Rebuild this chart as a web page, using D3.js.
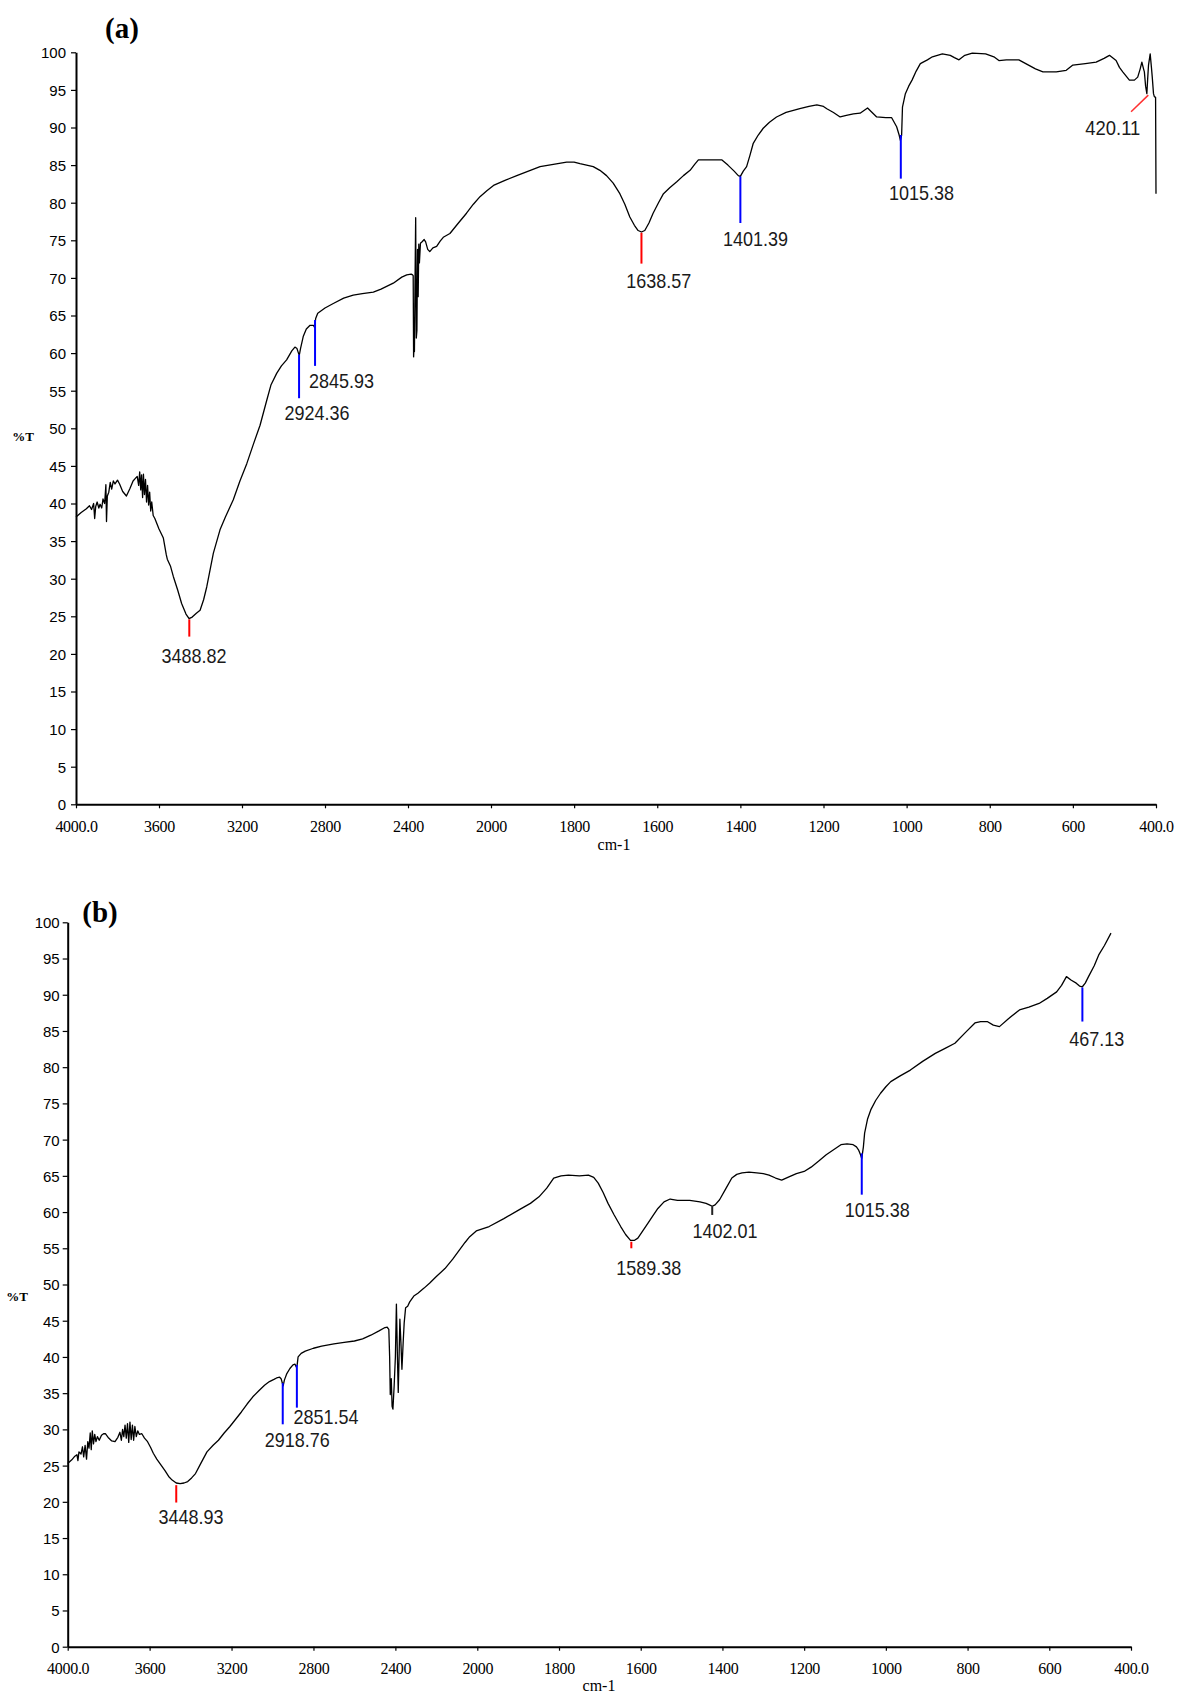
<!DOCTYPE html>
<html><head><meta charset="utf-8">
<script src="https://cdn.jsdelivr.net/npm/d3@7"></script>
<style>body{margin:0;background:#fff;} svg{display:block;}</style>
</head><body>
<svg id="chart" width="1177" height="1697"></svg>
<script>
// ---------------- DATA ----------------
const xTickValues = [4000,3600,3200,2800,2400,2000,1800,1600,1400,1200,1000,800,600,400];
const xTickLabels = ["4000.0","3600","3200","2800","2400","2000","1800","1600","1400","1200","1000","800","600","400.0"];
const yTickValues = [0,5,10,15,20,25,30,35,40,45,50,55,60,65,70,75,80,85,90,95,100];
const yTickLabels = ["0","5","10","15","20","25","30","35","40","45","50","55","60","65","70","75","80","85","90","95","100"];
const panelTitles = ["(a)", "(b)"];
const xAxisTitle = "cm-1";
const yAxisTitle = "%T";

// spectrum (a): [wavenumber cm-1, %T]
const spectrumA = [
[4000,38.2],[3975,38.8],[3950,39.3],[3935,39.7],[3925,39.2],[3915,40.0],[3910,38.0],[3905,39.6],[3898,40.2],
[3890,39.4],[3884,39.9],[3876,39.4],[3870,40.6],[3862,40.0],[3856,42.5],[3853,37.6],[3849,41.0],[3842,41.5],
[3835,42.8],[3828,41.9],[3820,43.0],[3812,42.6],[3800,43.1],[3790,42.6],[3775,41.6],[3757,41.0],[3740,42.0],
[3725,43.0],[3715,43.3],[3705,43.6],[3698,42.4],[3693,44.2],[3688,41.8],[3684,43.8],[3679,40.8],[3675,43.9],
[3670,41.2],[3665,43.2],[3660,40.2],[3655,42.4],[3650,39.8],[3645,41.5],[3640,39.0],[3635,40.2],[3628,38.4],
[3620,38.0],[3600,36.6],[3579,35.4],[3565,33.2],[3560,32.6],[3545,31.7],[3531,30.3],[3510,28.5],[3491,26.7],
[3470,25.3],[3455,24.7],[3440,24.9],[3420,25.4],[3402,25.8],[3385,27.2],[3370,28.9],[3338,33.4],[3306,36.5],
[3280,38.2],[3242,40.5],[3210,43.0],[3177,45.3],[3145,47.9],[3113,50.4],[3081,53.7],[3060,55.8],[3033,57.3],
[3010,58.3],[2985,59.1],[2960,60.3],[2945,60.8],[2935,60.6],[2928,60.0],[2924,59.7],[2918,60.6],[2905,62.2],
[2890,63.2],[2872,63.7],[2856,63.7],[2850,63.4],[2845,64.6],[2835,65.3],[2800,66.0],[2760,66.6],[2710,67.3],
[2664,67.7],[2620,67.9],[2567,68.1],[2530,68.5],[2471,69.3],[2430,70.1],[2406,70.4],[2385,70.5],[2378,70.4],
[2375,70.3],[2373,59.5],[2371,60.8],[2369,60.2],[2366,70.0],[2363,78.0],[2360,62.0],[2357,63.0],[2354,73.8],
[2351,67.5],[2348,74.5],[2345,72.0],[2340,74.6],[2332,74.8],[2322,75.1],[2315,74.8],[2305,73.8],[2295,73.5],
[2280,74.0],[2262,74.2],[2245,74.9],[2230,75.4],[2198,75.9],[2160,77.2],[2118,78.6],[2085,79.8],[2053,80.8],
[2020,81.6],[1994,82.3],[1965,83.0],[1938,83.6],[1910,84.2],[1882,84.8],[1850,85.1],[1818,85.4],[1800,85.4],
[1786,85.2],[1770,85.0],[1754,84.8],[1738,84.3],[1722,83.6],[1706,82.6],[1690,81.2],[1678,79.8],[1666,78.1],
[1655,77.0],[1646,76.3],[1638,76.1],[1630,76.3],[1620,77.3],[1610,78.6],[1597,80.0],[1585,81.2],[1570,82.0],
[1553,82.8],[1537,83.6],[1521,84.3],[1510,85.1],[1501,85.7],[1470,85.7],[1445,85.7],[1430,85.0],[1415,84.2],
[1405,83.6],[1400,83.5],[1393,84.2],[1385,84.8],[1377,86.3],[1369,87.9],[1357,89.0],[1345,89.9],[1330,90.7],
[1313,91.4],[1290,92.0],[1257,92.5],[1235,92.8],[1216,93.0],[1200,92.8],[1192,92.5],[1176,92.0],[1160,91.4],
[1145,91.6],[1128,91.8],[1112,91.9],[1094,92.6],[1083,92.0],[1072,91.4],[1050,91.3],[1036,91.3],[1024,90.1],
[1018,89.0],[1015,88.3],[1012,89.0],[1010,92.7],[1003,94.5],[995,95.5],[987,96.3],[977,97.5],[967,98.5],
[950,99.0],[938,99.4],[914,99.8],[895,99.6],[885,99.3],[874,99.0],[860,99.6],[842,99.9],[810,99.8],[790,99.4],
[778,98.9],[760,99.0],[730,99.0],[710,98.4],[690,97.8],[672,97.4],[640,97.4],[616,97.6],[600,98.3],[570,98.5],
[544,98.7],[525,99.2],[512,99.6],[496,98.9],[488,98.0],[480,97.4],[464,96.3],[452,96.3],[444,96.7],[438,97.8],
[434,98.7],[430,97.8],[428,97.4],[425,95.5],[422,94.5],[420,96.5],[418,98.3],[414,99.8],[411,98.0],[409,96.7],
[406,94.5],[404,94.1],[401,94.0],[400,81.2]
];

// spectrum (b): [wavenumber cm-1, %T]
const spectrumB = [
[4000,25.3],[3980,25.8],[3965,26.3],[3955,26.5],[3950,25.7],[3945,26.9],[3935,26.6],[3928,27.6],[3922,26.2],
[3915,27.8],[3908,25.9],[3902,28.3],[3896,27.4],[3890,29.5],[3885,27.2],[3880,29.8],[3874,28.0],[3868,29.3],
[3862,28.3],[3855,29.0],[3846,28.5],[3835,29.2],[3825,29.4],[3816,29.4],[3800,28.8],[3785,28.4],[3769,28.3],
[3755,28.9],[3745,29.6],[3738,28.5],[3732,30.0],[3726,29.0],[3720,30.6],[3714,28.8],[3708,30.8],[3702,28.2],
[3696,31.0],[3690,28.6],[3684,30.6],[3678,28.5],[3672,30.4],[3665,29.0],[3658,29.8],[3650,29.3],[3638,29.4],
[3625,28.8],[3610,28.3],[3595,27.5],[3582,26.7],[3565,25.9],[3545,25.1],[3525,24.3],[3507,23.5],[3490,23.0],
[3470,22.6],[3451,22.5],[3432,22.6],[3414,22.8],[3395,23.3],[3376,23.9],[3350,25.3],[3320,26.9],[3290,27.8],
[3264,28.5],[3236,29.5],[3208,30.4],[3180,31.4],[3152,32.4],[3124,33.5],[3096,34.5],[3068,35.3],[3039,36.1],
[3015,36.6],[2993,36.9],[2980,37.1],[2965,37.2],[2958,37.0],[2952,36.4],[2948,36.0],[2942,36.8],[2930,37.7],
[2915,38.4],[2900,38.9],[2890,39.0],[2884,38.6],[2880,38.8],[2875,40.0],[2860,40.5],[2840,40.8],[2800,41.2],
[2760,41.5],[2700,41.8],[2650,42.0],[2600,42.2],[2560,42.5],[2520,43.0],[2480,43.6],[2455,44.0],[2440,44.1],
[2432,43.8],[2428,40.0],[2425,34.8],[2420,37.0],[2416,33.2],[2412,32.8],[2406,36.0],[2400,40.0],[2395,47.3],
[2390,40.0],[2386,35.1],[2382,40.0],[2378,45.2],[2373,42.0],[2368,38.3],[2362,42.0],[2357,44.7],[2350,46.8],
[2340,47.0],[2330,47.6],[2310,48.4],[2290,48.8],[2260,49.5],[2232,50.2],[2200,51.1],[2158,52.2],[2120,53.5],
[2086,54.8],[2060,55.8],[2037,56.6],[2005,57.4],[1971,58.0],[1935,59.1],[1898,60.3],[1870,61.2],[1849,62.1],
[1830,63.3],[1813,64.7],[1795,65.0],[1777,65.1],[1750,65.0],[1728,65.1],[1715,64.8],[1704,64.0],[1692,62.7],
[1680,61.2],[1665,59.6],[1649,58.0],[1637,56.9],[1625,56.1],[1615,56.1],[1607,56.4],[1595,57.4],[1583,58.4],
[1570,59.5],[1558,60.5],[1543,61.4],[1528,61.8],[1510,61.6],[1480,61.6],[1455,61.4],[1440,61.2],[1432,61.0],
[1425,60.8],[1418,61.0],[1407,61.7],[1392,63.2],[1377,64.7],[1365,65.2],[1352,65.4],[1335,65.5],[1316,65.4],
[1300,65.3],[1286,65.1],[1270,64.7],[1255,64.4],[1240,64.8],[1219,65.3],[1200,65.6],[1183,66.2],[1165,67.0],
[1146,67.9],[1128,68.6],[1110,69.3],[1095,69.4],[1080,69.3],[1072,69.0],[1067,68.6],[1062,67.9],[1059,67.4],
[1055,69.0],[1052,70.9],[1045,72.8],[1037,74.1],[1025,75.4],[1013,76.4],[1000,77.3],[988,78.0],[965,78.8],
[940,79.6],[910,80.8],[879,81.9],[855,82.6],[831,83.3],[805,84.8],[782,86.1],[768,86.3],[752,86.3],[737,85.8],
[722,85.6],[700,86.7],[673,87.9],[650,88.3],[625,88.8],[605,89.5],[582,90.4],[570,91.3],[558,92.5],[546,92.0],
[534,91.6],[526,91.2],[519,91.1],[512,91.6],[504,92.5],[490,94.0],[479,95.5],[465,96.8],[449,98.5]
];

// peak picks: printed label, marker position (wn, %T top -> %T bottom), colour
const peaksA = [
  {label:"3488.82", wn:3454, wnEnd:3454, top:24.6, bottom:22.3, color:"#ff0000"},
  {label:"2924.36", wn:2925, wnEnd:2925, top:59.8, bottom:54.0, color:"#0000ff"},
  {label:"2845.93", wn:2848, wnEnd:2848, top:64.4, bottom:58.3, color:"#0000ff"},
  {label:"1638.57", wn:1638, wnEnd:1638, top:76.0, bottom:71.9, color:"#ff0000"},
  {label:"1401.39", wn:1400, wnEnd:1400, top:83.5, bottom:77.3, color:"#0000ff"},
  {label:"1015.38", wn:1014, wnEnd:1014, top:89.0, bottom:83.2, color:"#0000ff"},
  {label:"420.11",  wn:418.5, wnEnd:460, top:94.3, bottom:92.1, color:"#ff3030"}
];
const peaksB = [
  {label:"3448.93", wn:3470, wnEnd:3470, top:22.3, bottom:19.9, color:"#ff0000"},
  {label:"2918.76", wn:2950, wnEnd:2950, top:36.4, bottom:30.7, color:"#0000ff"},
  {label:"2851.54", wn:2881, wnEnd:2881, top:38.9, bottom:33.0, color:"#0000ff"},
  {label:"1589.38", wn:1623, wnEnd:1623, top:55.9, bottom:55.0, color:"#ff0000"},
  {label:"1402.01", wn:1425, wnEnd:1425, top:60.8, bottom:59.6, color:"#222222"},
  {label:"1015.38", wn:1059, wnEnd:1059, top:68.1, bottom:62.4, color:"#0000ff"},
  {label:"467.13",  wn:519,  wnEnd:519,  top:91.0, bottom:86.3, color:"#0000ff"}
];

// ---------------- LAYOUT ----------------
const labelOffsetsA = [[4.7,26],[18,21.7],[26.5,21.7],[17.2,24],[15.1,23.3],[20.7,21],[-18.2,23.3]];
const labelOffsetsB = [[14.8,21],[14.5,22.7],[29.1,16.7],[17.4,26.6],[12.7,22.7],[15.4,22.7],[14.4,24.3]];

const panels = [
  {title: panelTitles[0], data: spectrumA, peaks: peaksA, offs: labelOffsetsA,
   xRange:[76, 491, 1156], yRange:[804.3, 52.3], yLabelPad: 5,
   titlePos:[122, 38], yTitlePos:[23, 441], xTitlePos:[614, 850]},
  {title: panelTitles[1], data: spectrumB, peaks: peaksB, offs: labelOffsetsB,
   xRange:[67.7, 477.3, 1131], yRange:[1646.7, 922.3], yLabelPad: 3,
   titlePos:[100, 922], yTitlePos:[17, 1301], xTitlePos:[599, 1691]}
];

const svg = d3.select("#chart");
svg.append("rect").attr("width",1177).attr("height",1697).attr("fill","#fff");

panels.forEach(p => {
  const x = d3.scaleLinear().domain([4000, 2000, 400]).range(p.xRange);
  const y = d3.scaleLinear().domain([0, 100]).range(p.yRange);
  const g = svg.append("g");

  // y axis
  const ya = g.append("g").attr("transform", `translate(${p.xRange[0]},0)`)
    .call(d3.axisLeft(y).tickValues(yTickValues).tickFormat((d,i)=>yTickLabels[i])
      .tickSize(5).tickSizeOuter(0).tickPadding(p.yLabelPad));
  ya.select(".domain").attr("stroke","#000").attr("stroke-width",2);
  ya.selectAll(".tick line").attr("stroke","#000").attr("stroke-width",1.2);
  ya.selectAll(".tick text").attr("font-family","'Liberation Sans', Arial, sans-serif")
    .attr("font-size",15).attr("fill","#000").attr("dy","0.36em");

  // x axis
  const xa = g.append("g").attr("transform", `translate(0,${p.yRange[0]})`)
    .call(d3.axisBottom(x).tickValues(xTickValues).tickFormat((d,i)=>xTickLabels[i])
      .tickSize(4).tickSizeOuter(0).tickPadding(12));
  xa.select(".domain").attr("stroke","#000").attr("stroke-width",2);
  xa.selectAll(".tick line").attr("stroke","#000").attr("stroke-width",1.2);
  xa.selectAll(".tick text").attr("font-family","'Liberation Serif', 'Times New Roman', serif")
    .attr("font-size",16).attr("fill","#000").attr("letter-spacing","-0.3");

  // spectrum line
  const line = d3.line().x(d => x(d[0])).y(d => y(d[1]));
  g.append("path").datum(p.data).attr("d", line)
    .attr("fill","none").attr("stroke","#000").attr("stroke-width",1.3).attr("stroke-linejoin","round");

  // peak markers
  g.selectAll("line.peak").data(p.peaks).join("line").attr("class","peak")
    .attr("x1", d => x(d.wn)).attr("y1", d => y(d.top))
    .attr("x2", d => x(d.wnEnd)).attr("y2", d => y(d.bottom))
    .attr("stroke", d => d.color).attr("stroke-width", d => d.wn === d.wnEnd ? 2 : 1.5);

  // peak labels
  g.selectAll("text.peaklabel").data(p.peaks).join("text").attr("class","peaklabel")
    .attr("x", (d,i) => x(d.wnEnd) + p.offs[i][0])
    .attr("y", (d,i) => y(d.bottom) + p.offs[i][1])
    .attr("text-anchor","middle")
    .attr("font-family","'Liberation Sans', Arial, sans-serif")
    .attr("font-size",21).attr("fill","#1a1a1a")
    .attr("textLength", d => (d.label.length - 1) * 10 + 5)
    .attr("lengthAdjust","spacingAndGlyphs")
    .text(d => d.label);

  // titles
  g.append("text").attr("x", p.titlePos[0]).attr("y", p.titlePos[1])
    .attr("text-anchor","middle").attr("font-family","'Liberation Serif', 'Times New Roman', serif")
    .attr("font-weight","bold").attr("font-size",29).attr("fill","#000").text(p.title);
  g.append("text").attr("x", p.yTitlePos[0]).attr("y", p.yTitlePos[1])
    .attr("text-anchor","middle").attr("font-family","'Liberation Serif', serif")
    .attr("font-weight","bold").attr("font-size",13).attr("fill","#000").text(yAxisTitle);
  g.append("text").attr("x", p.xTitlePos[0]).attr("y", p.xTitlePos[1])
    .attr("text-anchor","middle").attr("font-family","'Liberation Serif', serif")
    .attr("font-size",16).attr("fill","#000").text(xAxisTitle);
});
</script>
</body></html>
